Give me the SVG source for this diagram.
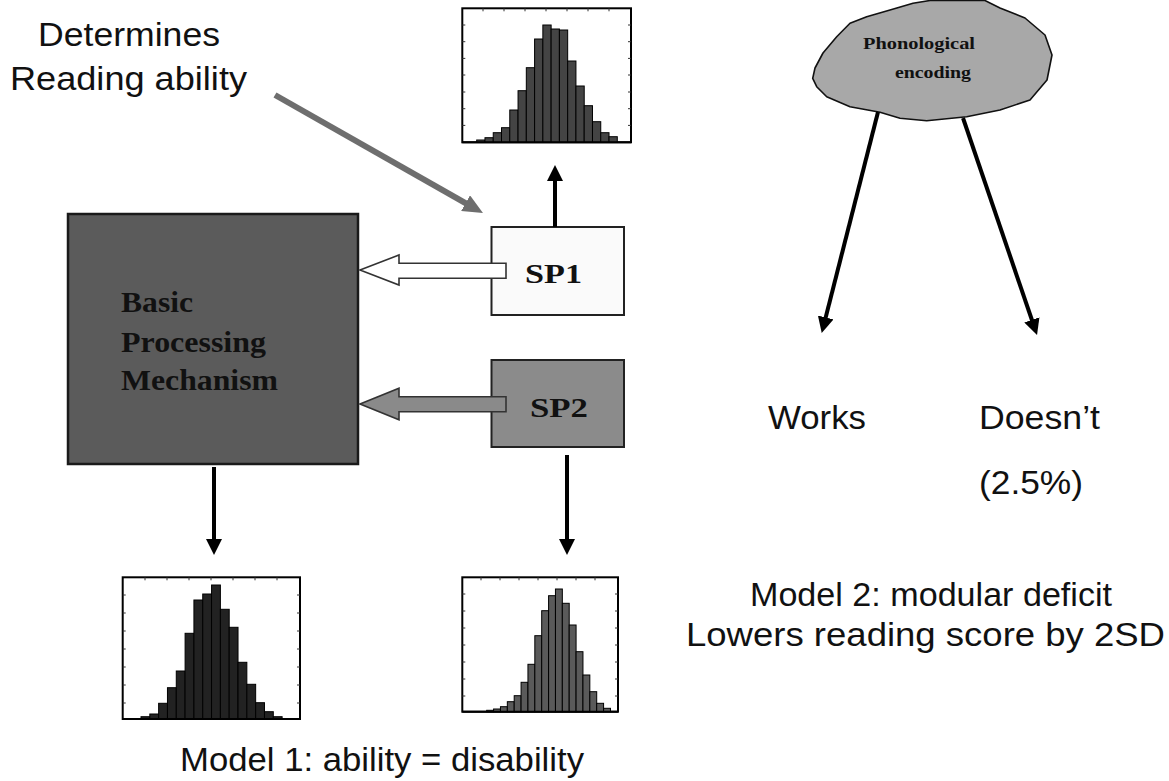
<svg xmlns="http://www.w3.org/2000/svg" width="1169" height="781" viewBox="0 0 1169 781">
<defs>
<style>
.sans{font-family:"Liberation Sans",Arial,sans-serif;fill:#111;font-size:34px}
.serif{font-family:"Liberation Serif","Times New Roman",serif;font-weight:bold;fill:#111}
.frame{fill:#fff;stroke:#000;stroke-width:2}
.tick{stroke:#333;stroke-width:1}
.barA{fill:#444;stroke:#000;stroke-width:1}
.barB{fill:#222;stroke:#000;stroke-width:1}
.barC{fill:#5a5a5a;stroke:#000;stroke-width:1}
.blk{stroke:#000;stroke-width:4;fill:none}
</style>
<marker id="ah" markerUnits="userSpaceOnUse" viewBox="0 0 16 16" markerWidth="16" markerHeight="16" refX="6" refY="8" orient="auto">
<path d="M0,0 L16,8 L0,16 z" fill="#000"/>
</marker>
<marker id="ahg" markerUnits="userSpaceOnUse" viewBox="0 0 20 18" markerWidth="20" markerHeight="18" refX="6" refY="9" orient="auto">
<path d="M0,0 L20,9 L0,18 z" fill="#6e6e6e"/>
</marker>
</defs>
<rect width="1169" height="781" fill="#fff"/>

<g id="label-determines">
<text class="sans" x="38" y="46" textLength="182" lengthAdjust="spacingAndGlyphs">Determines</text>
<text class="sans" x="10" y="90" textLength="237" lengthAdjust="spacingAndGlyphs">Reading ability</text>
</g>

<g id="hist-top">
<rect class="frame" x="462.3" y="8.3" width="168.7" height="134"/>
<g class="tick">
<path d="M483,8.3v3 M504,8.3v3 M525,8.3v3 M546,8.3v3 M567,8.3v3 M588,8.3v3 M609,8.3v3 M631,25h-3 M631,41.7h-3 M631,58.4h-3 M631,75h-3 M631,92h-3 M631,108.7h-3 M631,125.4h-3 M462.3,25h3 M462.3,41.7h3 M462.3,58.4h3 M462.3,75h3 M462.3,92h3 M462.3,108.7h3 M462.3,125.4h3"/>
</g>
<rect class="barA" x="476.7" y="140" width="8.27" height="2.3"/>
<rect class="barA" x="484.97" y="137.7" width="8.27" height="4.6"/>
<rect class="barA" x="493.24" y="132.7" width="8.27" height="9.6"/>
<rect class="barA" x="501.51" y="127.7" width="8.27" height="14.6"/>
<rect class="barA" x="509.78" y="110" width="8.27" height="32.3"/>
<rect class="barA" x="518.05" y="90.7" width="8.27" height="51.6"/>
<rect class="barA" x="526.32" y="67.7" width="8.27" height="74.6"/>
<rect class="barA" x="534.59" y="39" width="8.27" height="103.3"/>
<rect class="barA" x="542.86" y="25" width="8.27" height="117.3"/>
<rect class="barA" x="551.13" y="29" width="8.27" height="113.3"/>
<rect class="barA" x="559.4" y="30" width="8.27" height="112.3"/>
<rect class="barA" x="567.67" y="61" width="8.27" height="81.3"/>
<rect class="barA" x="575.94" y="86" width="8.27" height="56.3"/>
<rect class="barA" x="584.21" y="105.7" width="8.27" height="36.6"/>
<rect class="barA" x="592.48" y="121.7" width="8.27" height="20.6"/>
<rect class="barA" x="600.75" y="132.7" width="8.27" height="9.6"/>
<rect class="barA" x="609.02" y="136.7" width="8.27" height="5.6"/>
<path d="M462.3,142.3H631" stroke="#000" stroke-width="2"/>
</g>

<g id="basic-processing">
<rect x="68" y="214" width="290" height="250" fill="#5b5b5b" stroke="#1a1a1a" stroke-width="2.5"/>
<text class="serif" x="121" y="312" font-size="30" textLength="72" lengthAdjust="spacingAndGlyphs">Basic</text>
<text class="serif" x="121" y="352" font-size="30" textLength="145" lengthAdjust="spacingAndGlyphs">Processing</text>
<text class="serif" x="121" y="390" font-size="30" textLength="157" lengthAdjust="spacingAndGlyphs">Mechanism</text>
</g>

<g id="sp1">
<rect x="491.5" y="227" width="132.5" height="88" fill="#fafafa" stroke="#222" stroke-width="2"/>
<text class="serif" x="525" y="283" font-size="28" textLength="57" lengthAdjust="spacingAndGlyphs">SP1</text>
</g>

<g id="sp2">
<rect x="491.5" y="360" width="132.5" height="87" fill="#8b8b8b" stroke="#222" stroke-width="2"/>
<text class="serif" x="530" y="417" font-size="28" textLength="58" lengthAdjust="spacingAndGlyphs">SP2</text>
</g>

<g id="cloud">
<path d="M812.7,78.3 L815,68 L823,53 L836.7,36.7 L850,23.3 L866.7,16.7 L890,10 L913,3.3 L930,0.5 L985,0.5 L1000,8 L1025,18 L1045,35 L1052,55 L1047,80 L1030,100 L1000,110 L966.7,116.7 L926.7,120.7 L900,118.3 L880,112.3 L850,106.7 L826.7,96.7 L816.7,86.7 Z" fill="#a8a8a8" stroke="#111" stroke-width="1.6" stroke-linejoin="round"/>
<text class="serif" x="863" y="49" font-size="17" textLength="112" lengthAdjust="spacingAndGlyphs">Phonological</text>
<text class="serif" x="895" y="78" font-size="17" textLength="76" lengthAdjust="spacingAndGlyphs">encoding</text>
</g>

<g id="hist-bottom-left">
<rect class="frame" x="122.7" y="577.3" width="177.3" height="141.7"/>
<g class="tick">
<path d="M145,577.3v3 M167,577.3v3 M189,577.3v3 M211,577.3v3 M233,577.3v3 M255,577.3v3 M277,577.3v3 M300,595h-3 M300,613h-3 M300,631h-3 M300,649h-3 M300,667h-3 M300,685h-3 M300,703h-3 M122.7,595h3 M122.7,613h3 M122.7,631h3 M122.7,649h3 M122.7,667h3 M122.7,685h3 M122.7,703h3"/>
</g>
<rect class="barB" x="141" y="716.7" width="8.82" height="2.3"/>
<rect class="barB" x="149.82" y="714" width="8.82" height="5"/>
<rect class="barB" x="158.64" y="703.3" width="8.82" height="15.7"/>
<rect class="barB" x="167.46" y="687.7" width="8.82" height="31.3"/>
<rect class="barB" x="176.28" y="671" width="8.82" height="48"/>
<rect class="barB" x="185.1" y="633.3" width="8.82" height="85.7"/>
<rect class="barB" x="193.92" y="600" width="8.82" height="119"/>
<rect class="barB" x="202.74" y="594" width="8.82" height="125"/>
<rect class="barB" x="211.56" y="585" width="8.82" height="134"/>
<rect class="barB" x="220.38" y="609.3" width="8.82" height="109.7"/>
<rect class="barB" x="229.2" y="627.3" width="8.82" height="91.7"/>
<rect class="barB" x="238.02" y="662.3" width="8.82" height="56.7"/>
<rect class="barB" x="246.84" y="684.3" width="8.82" height="34.7"/>
<rect class="barB" x="255.66" y="702.7" width="8.82" height="16.3"/>
<rect class="barB" x="264.48" y="711.7" width="8.82" height="7.3"/>
<rect class="barB" x="273.3" y="716.7" width="8.82" height="2.3"/>
<path d="M122.7,719H300" stroke="#000" stroke-width="2"/>
</g>

<g id="hist-bottom-right">
<rect class="frame" x="462.3" y="577.3" width="155.7" height="134.4"/>
<g class="tick">
<path d="M481,577.3v3 M500,577.3v3 M519,577.3v3 M538,577.3v3 M557,577.3v3 M576,577.3v3 M595,577.3v3 M618,594h-3 M618,611h-3 M618,628h-3 M618,645h-3 M618,662h-3 M618,679h-3 M618,696h-3 M462.3,594h3 M462.3,611h3 M462.3,628h3 M462.3,645h3 M462.3,662h3 M462.3,679h3 M462.3,696h3"/>
</g>
<rect class="barC" x="486.7" y="710.3" width="6.88" height="1.4"/>
<rect class="barC" x="493.58" y="709" width="6.88" height="2.7"/>
<rect class="barC" x="500.45" y="706.7" width="6.88" height="5"/>
<rect class="barC" x="507.33" y="701.7" width="6.88" height="10"/>
<rect class="barC" x="514.2" y="695.7" width="6.88" height="16"/>
<rect class="barC" x="521.08" y="682.3" width="6.88" height="29.4"/>
<rect class="barC" x="527.95" y="664.3" width="6.88" height="47.4"/>
<rect class="barC" x="534.83" y="635.7" width="6.88" height="76"/>
<rect class="barC" x="541.7" y="610.7" width="6.88" height="101"/>
<rect class="barC" x="548.58" y="595.7" width="6.88" height="116"/>
<rect class="barC" x="555.45" y="589" width="6.88" height="122.7"/>
<rect class="barC" x="562.33" y="603.3" width="6.88" height="108.4"/>
<rect class="barC" x="569.2" y="625" width="6.88" height="86.7"/>
<rect class="barC" x="576.08" y="651.7" width="6.88" height="60"/>
<rect class="barC" x="582.95" y="675" width="6.88" height="36.7"/>
<rect class="barC" x="589.83" y="691.7" width="6.88" height="20"/>
<rect class="barC" x="596.7" y="703.3" width="6.88" height="8.4"/>
<rect class="barC" x="603.58" y="708.3" width="6.88" height="3.4"/>
<path d="M462.3,711.7H618" stroke="#000" stroke-width="2"/>
</g>

<g id="connectors">
<line x1="275" y1="95" x2="470.8" y2="206.1" stroke="#6e6e6e" stroke-width="6" marker-end="url(#ahg)"/>
<line class="blk" x1="555" y1="227" x2="555" y2="175" marker-end="url(#ah)"/>
<polygon points="506,263.3 399,263.3 399,255 360,270 399,285 399,278.3 506,278.3" fill="#fff" stroke="#333" stroke-width="1.6"/>
<polygon points="506,396.7 399,396.7 399,388.3 360,404 399,419.7 399,411.7 506,411.7" fill="#8a8a8a" stroke="#333" stroke-width="1.6"/>
<line class="blk" x1="214" y1="467" x2="214" y2="545" marker-end="url(#ah)"/>
<line class="blk" x1="567" y1="455" x2="567" y2="545" marker-end="url(#ah)"/>
<line class="blk" x1="878" y1="112" x2="824.2" y2="323.3" marker-end="url(#ah)"/>
<line class="blk" x1="963" y1="118" x2="1033.8" y2="325.5" marker-end="url(#ah)"/>
</g>

<g id="labels-right">
<text class="sans" x="768" y="429" textLength="98" lengthAdjust="spacingAndGlyphs">Works</text>
<text class="sans" x="979" y="429" textLength="121" lengthAdjust="spacingAndGlyphs">Doesn’t</text>
<text class="sans" x="979" y="494" textLength="104" lengthAdjust="spacingAndGlyphs">(2.5%)</text>
<text class="sans" x="750" y="606" textLength="362" lengthAdjust="spacingAndGlyphs">Model 2: modular deficit</text>
<text class="sans" x="686" y="646" textLength="479" lengthAdjust="spacingAndGlyphs">Lowers reading score by 2SD</text>
</g>

<g id="label-model1">
<text class="sans" x="180" y="771" textLength="404" lengthAdjust="spacingAndGlyphs">Model 1: ability = disability</text>
</g>
</svg>
